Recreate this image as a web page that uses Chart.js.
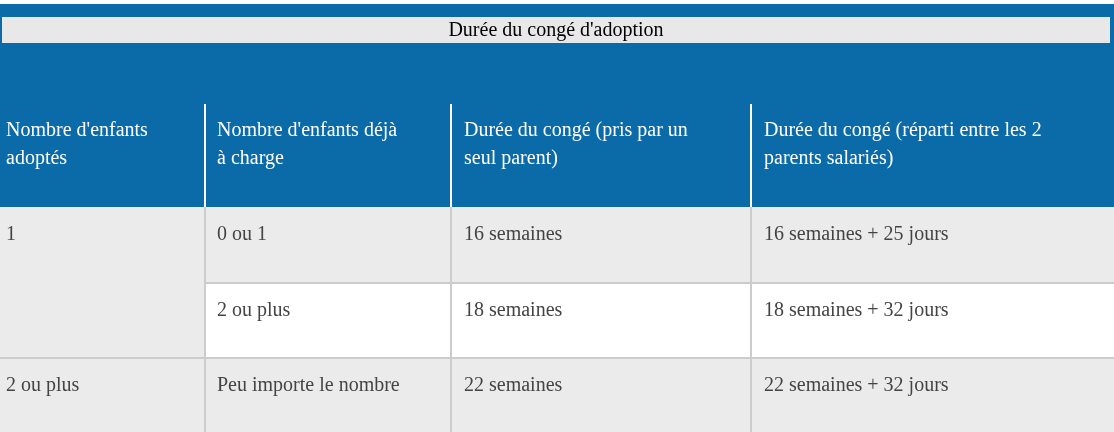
<!DOCTYPE html>
<html><head><meta charset="utf-8">
<script src="https://cdn.jsdelivr.net/npm/chart.js@4"></script>
<style>html,body{margin:0;background:#fff}#w{width:1114px;height:432px}</style>
</head><body><div id="w"><canvas id="c"></canvas></div>
<script>
const title = "Durée du congé d'adoption";
const headers = [["Nombre d'enfants", "adoptés"], ["Nombre d'enfants déjà", "à charge"], ["Durée du congé (pris par un", "seul parent)"], ["Durée du congé (réparti entre les 2", "parents salariés)"]];
const colEdges = [0, 204, 451, 751, 1114];
const rowEdges = [207, 283, 358, 432];
const adopted = ["1", "2 ou plus"];
const already = ["0 ou 1", "2 ou plus", "Peu importe le nombre"];
const single = ["16 semaines", "18 semaines", "22 semaines"];
const shared = ["16 semaines + 25 jours", "18 semaines + 32 jours", "22 semaines + 32 jours"];

const FONT = '20px "Liberation Serif", "Times New Roman", serif';
const tablePlugin = {
  id: 'table',
  beforeDraw(ch) {
    const { ctx, scales: { x, y } } = ch;
    const X = (v) => x.getPixelForValue(v), Y = (v) => y.getPixelForValue(v);
    const rect = (x0, y0, x1, y1, c) => { ctx.fillStyle = c; ctx.fillRect(X(x0), Y(y0), X(x1) - X(x0), Y(y1) - Y(y0)); };
    ctx.save();
    rect(0, 4, 1114, 207, '#0b6aa8');
    rect(2, 17, 1110, 43, '#e8e8e8');
    ctx.font = FONT; ctx.textBaseline = 'middle';
    ctx.fillStyle = '#000'; ctx.textAlign = 'center';
    ctx.fillText(title, X(556), Y(31));
    ctx.textAlign = 'left';
    ctx.fillStyle = '#fff';
    headers.forEach((h, i) => h.forEach((l, j) => ctx.fillText(l, X(colEdges[i] + 6 + (i ? 7 : 0)), Y(131 + j * 28))));
    ctx.fillRect(X(204), Y(104), 2, Y(207) - Y(104));
    ctx.fillRect(X(450), Y(104), 2, Y(207) - Y(104));
    ctx.fillRect(X(750), Y(104), 2, Y(207) - Y(104));
    // body
    rect(0, 207, 1114, 432, '#ebebeb');
    rect(204, 283, 1114, 358, '#ffffff');
    ctx.fillStyle = '#cccccc';
    ctx.fillRect(X(204), Y(282), X(1114) - X(204), 2);
    ctx.fillRect(X(0), Y(357), X(1114), 2);
    [204, 450, 750].forEach((c) => ctx.fillRect(X(c), Y(207), 2, Y(432) - Y(207)));
    ctx.fillStyle = '#444';
    const ty = (r) => Y(rowEdges[r] + 28);
    ctx.fillText(adopted[0], X(6), ty(0));
    ctx.fillText(adopted[1], X(6), ty(2));
    for (let r = 0; r < 3; r++) {
      ctx.fillText(already[r], X(217), ty(r));
      ctx.fillText(single[r], X(464), ty(r));
      ctx.fillText(shared[r], X(764), ty(r));
    }
    ctx.restore();
  }
};

new Chart(document.getElementById('c'), {
  type: 'scatter',
  data: { datasets: [{ data: [] }] },
  options: {
    responsive: true, maintainAspectRatio: false, animation: false,
    layout: { padding: 0 },
    plugins: { legend: { display: false }, tooltip: { enabled: false } },
    scales: {
      x: { type: 'linear', min: 0, max: 1114, display: false },
      y: { type: 'linear', min: 0, max: 432, reverse: true, display: false }
    }
  },
  plugins: [tablePlugin]
});
</script></body></html>
